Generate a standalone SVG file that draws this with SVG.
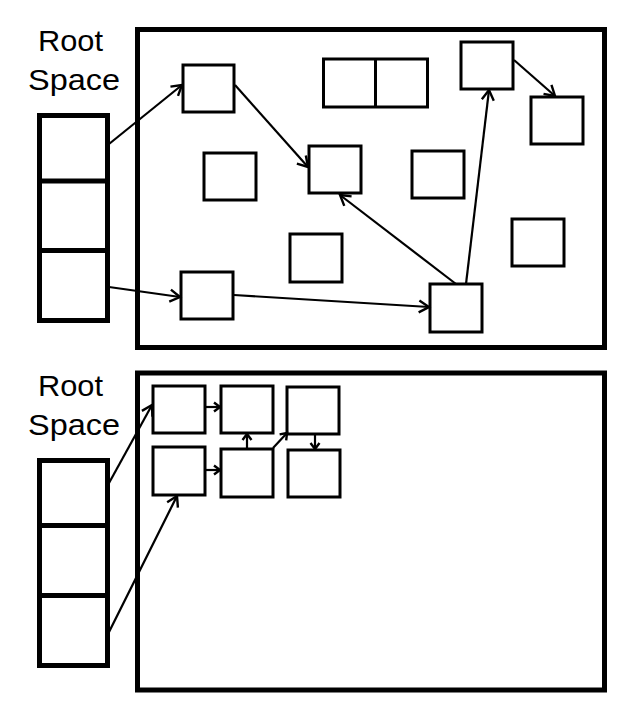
<svg xmlns="http://www.w3.org/2000/svg" width="622" height="708" viewBox="0 0 622 708">
<style>
.panel{fill:#fff;stroke:#000;stroke-width:5}
.stack{fill:#fff;stroke:#000;stroke-width:5}
.box{fill:#fff;stroke:#000;stroke-width:3}
.conn{fill:none;stroke:#000;stroke-width:2.2}
.lbl{font-family:"Liberation Sans",Arial,sans-serif;font-size:30px;fill:#000;text-anchor:middle}
</style>
<defs>
<marker id="ah" markerUnits="userSpaceOnUse" markerWidth="20" markerHeight="20" viewBox="-12 -10 14 20" refX="0" refY="0" orient="auto">
<path d="M-10,-6 L0,0 L-10,6" fill="none" stroke="#000" stroke-width="2.4"/>
</marker>
<marker id="ahs" markerUnits="userSpaceOnUse" markerWidth="16" markerHeight="16" viewBox="-10 -8 12 16" refX="0" refY="0" orient="auto">
<path d="M-6,-4.5 L0,0 L-6,4.5" fill="none" stroke="#000" stroke-width="2.4"/>
</marker>
</defs>
<rect width="622" height="708" fill="#fff"/>

<g id="top-panel">
<rect class="panel" x="137.5" y="29.5" width="467" height="318"/>
</g>
<g id="top-root">
<text class="lbl" x="70.5" y="51" textLength="65" lengthAdjust="spacingAndGlyphs">Root</text>
<text class="lbl" x="74" y="90" textLength="92" lengthAdjust="spacingAndGlyphs">Space</text>
<rect class="stack" x="39.5" y="115.5" width="68" height="205"/>
<line x1="39.5" y1="181" x2="107.5" y2="181" stroke="#000" stroke-width="5"/>
<line x1="39.5" y1="250.5" x2="107.5" y2="250.5" stroke="#000" stroke-width="5"/>
</g>
<g id="top-nodes">
<rect id="t-a" class="box" x="183" y="65" width="51" height="47"/>
<rect id="t-b" class="box" x="204" y="153" width="52" height="47"/>
<rect id="t-c" class="box" x="181" y="272" width="52" height="47"/>
<rect id="t-d" class="box" x="290" y="234" width="52" height="48"/>
<g id="t-double">
<rect class="box" x="323.5" y="59" width="104" height="48"/>
<line x1="375.5" y1="59" x2="375.5" y2="107" stroke="#000" stroke-width="3"/>
</g>
<rect id="t-tr" class="box" x="461" y="42" width="52" height="47"/>
<rect id="t-r" class="box" x="531" y="97" width="52" height="47"/>
<rect id="t-m" class="box" x="309" y="146" width="52" height="47"/>
<rect id="t-m2" class="box" x="412" y="151" width="52" height="47"/>
<rect id="t-rl" class="box" x="512" y="219" width="52" height="47"/>
<rect id="t-bot" class="box" x="430" y="284" width="52" height="48"/>
</g>

<g id="bottom-panel">
<rect class="panel" x="137.5" y="373" width="467" height="317"/>
</g>
<g id="bottom-root">
<text class="lbl" x="70.5" y="396" textLength="65" lengthAdjust="spacingAndGlyphs">Root</text>
<text class="lbl" x="74" y="435" textLength="92" lengthAdjust="spacingAndGlyphs">Space</text>
<rect class="stack" x="39.5" y="460.5" width="68" height="205"/>
<line x1="39.5" y1="525.5" x2="107.5" y2="525.5" stroke="#000" stroke-width="5"/>
<line x1="39.5" y1="595.5" x2="107.5" y2="595.5" stroke="#000" stroke-width="5"/>
</g>
<g id="bottom-nodes">
<rect id="b1" class="box" x="153" y="386" width="52" height="47"/>
<rect id="b2" class="box" x="221" y="386" width="52" height="47"/>
<rect id="b3" class="box" x="287" y="387" width="52" height="47"/>
<rect id="b4" class="box" x="153" y="447" width="52" height="48"/>
<rect id="b5" class="box" x="221" y="449" width="52" height="48"/>
<rect id="b6" class="box" x="288" y="450" width="52" height="47"/>
</g>

<g id="connectors">
<line class="conn" x1="109" y1="144" x2="182" y2="85" marker-end="url(#ah)"/>
<line class="conn" x1="235" y1="85" x2="308" y2="167" marker-end="url(#ah)"/>
<line class="conn" x1="109" y1="287" x2="180" y2="297" marker-end="url(#ah)"/>
<line class="conn" x1="234" y1="295" x2="429" y2="307" marker-end="url(#ah)"/>
<line class="conn" x1="456" y1="284" x2="340" y2="195" marker-end="url(#ah)"/>
<line class="conn" x1="466" y1="284" x2="489" y2="90" marker-end="url(#ah)"/>
<line class="conn" x1="514" y1="60" x2="555" y2="96" marker-end="url(#ah)"/>

<line class="conn" x1="109" y1="483" x2="152" y2="405" marker-end="url(#ah)"/>
<line class="conn" x1="109" y1="632" x2="177" y2="496" marker-end="url(#ah)"/>
<line class="conn" x1="205" y1="407" x2="220" y2="407" marker-end="url(#ahs)"/>
<line class="conn" x1="205" y1="470" x2="220" y2="470" marker-end="url(#ahs)"/>
<line class="conn" x1="247" y1="448" x2="247" y2="434" marker-end="url(#ahs)"/>
<line class="conn" x1="273" y1="448" x2="287" y2="433" marker-end="url(#ahs)"/>
<line class="conn" x1="315" y1="435" x2="315" y2="449" marker-end="url(#ahs)"/>
</g>
</svg>
